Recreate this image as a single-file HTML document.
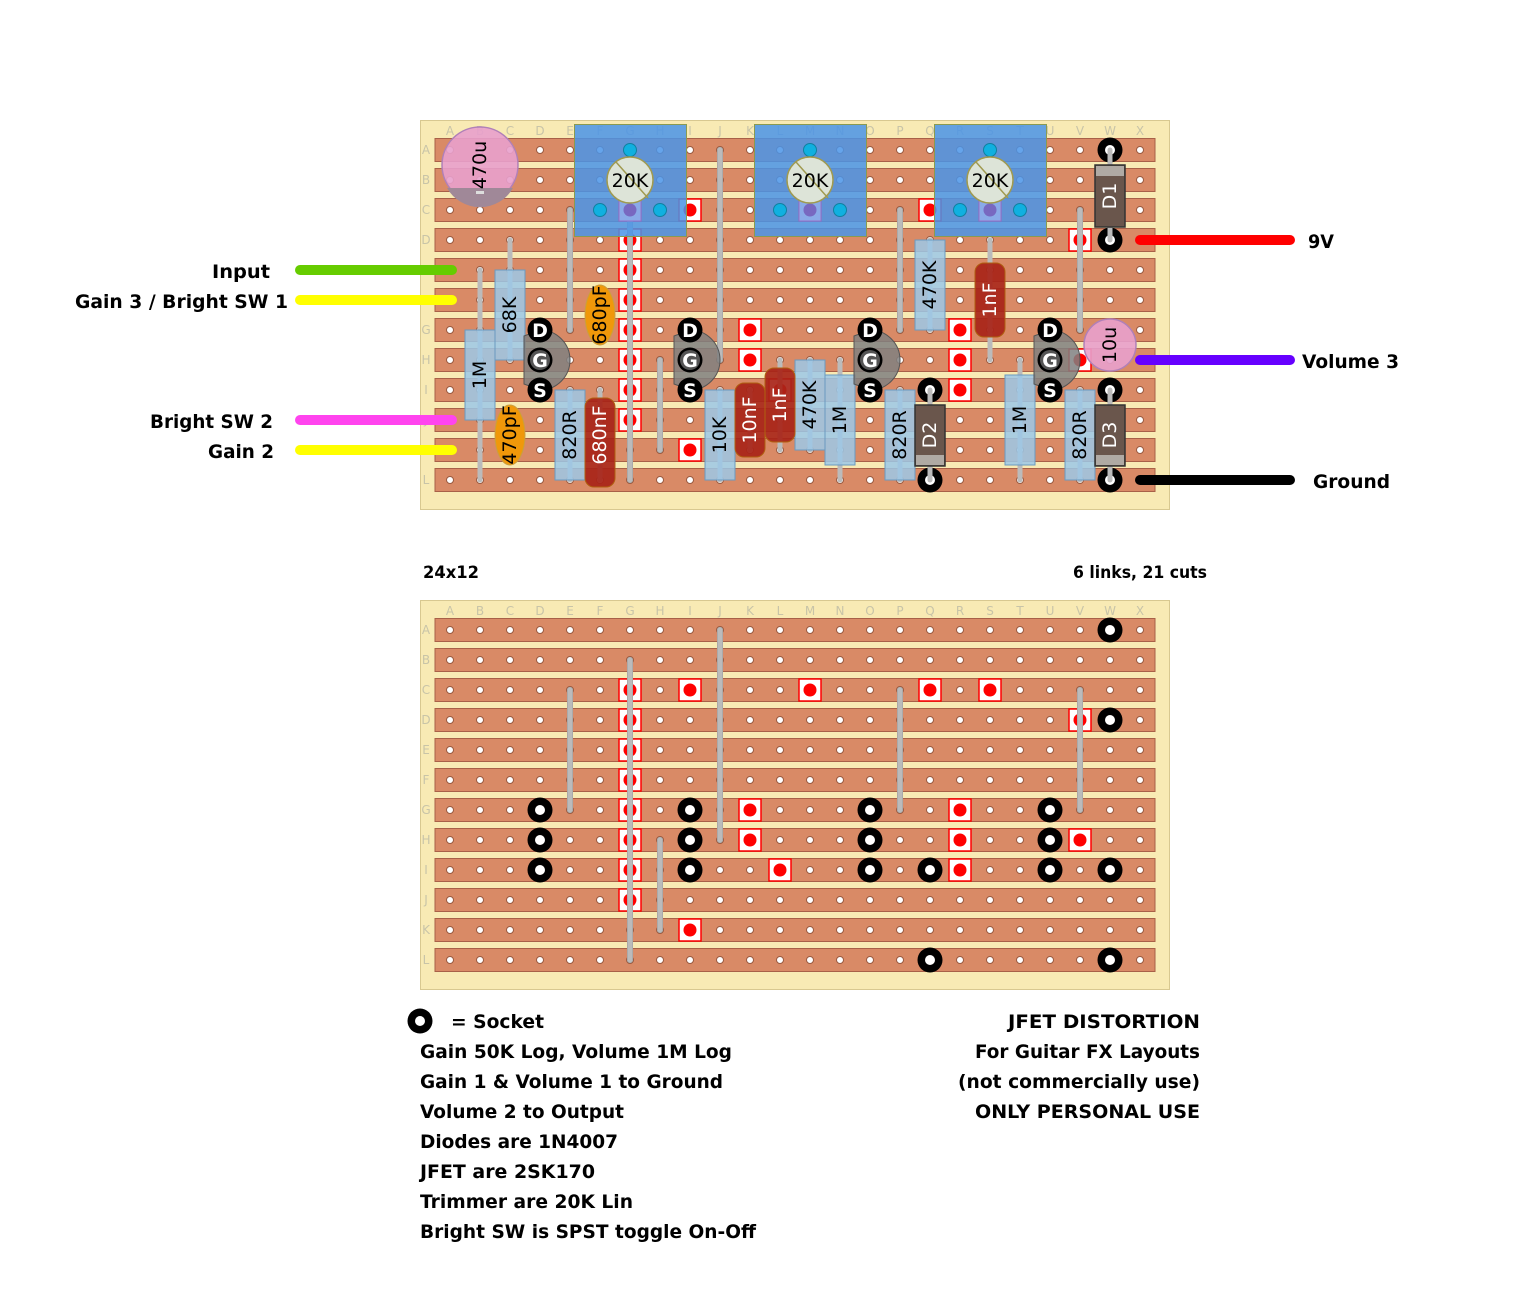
<!DOCTYPE html>
<html><head><meta charset="utf-8"><style>
html,body{margin:0;padding:0;background:#fff;}
svg{display:block;}
.lbl{font-family:"DejaVu Sans","Liberation Sans",sans-serif;font-weight:bold;font-size:19px;fill:#000;}
.gl{font-family:"DejaVu Sans","Liberation Sans",sans-serif;font-size:12px;fill:#c8c4a8;text-anchor:middle;}
.ct{font-family:"DejaVu Sans","Liberation Sans",sans-serif;font-size:19px;text-anchor:middle;dominant-baseline:central;}
.pin{font-family:"DejaVu Sans","Liberation Sans",sans-serif;font-weight:bold;font-size:19px;fill:#fff;text-anchor:middle;dominant-baseline:central;}
</style></head><body>
<svg width="1536" height="1300" viewBox="0 0 1536 1300" xmlns="http://www.w3.org/2000/svg">
<defs>
<pattern id="holes" x="435" y="135" width="30" height="30" patternUnits="userSpaceOnUse">
<circle cx="15" cy="15" r="3.5" fill="#fff" stroke="#9a5a40" stroke-width="1"/>
</pattern>
<pattern id="holes2" x="435" y="615" width="30" height="30" patternUnits="userSpaceOnUse">
<circle cx="15" cy="15" r="3.5" fill="#fff" stroke="#9a5a40" stroke-width="1"/>
</pattern>
<g id="strips">
<rect x="435" y="0" width="720" height="23" fill="#d98a66" stroke="#a86048"/>
<rect x="435" y="30" width="720" height="23" fill="#d98a66" stroke="#a86048"/>
<rect x="435" y="60" width="720" height="23" fill="#d98a66" stroke="#a86048"/>
<rect x="435" y="90" width="720" height="23" fill="#d98a66" stroke="#a86048"/>
<rect x="435" y="120" width="720" height="23" fill="#d98a66" stroke="#a86048"/>
<rect x="435" y="150" width="720" height="23" fill="#d98a66" stroke="#a86048"/>
<rect x="435" y="180" width="720" height="23" fill="#d98a66" stroke="#a86048"/>
<rect x="435" y="210" width="720" height="23" fill="#d98a66" stroke="#a86048"/>
<rect x="435" y="240" width="720" height="23" fill="#d98a66" stroke="#a86048"/>
<rect x="435" y="270" width="720" height="23" fill="#d98a66" stroke="#a86048"/>
<rect x="435" y="300" width="720" height="23" fill="#d98a66" stroke="#a86048"/>
<rect x="435" y="330" width="720" height="23" fill="#d98a66" stroke="#a86048"/>
</g>
<g id="cut"><rect x="-11" y="-11" width="22" height="22" fill="#fff" stroke="#f00" stroke-width="1.5"/><circle r="6.5" fill="#f00"/></g>
<g id="sock"><circle r="12.5" fill="#000"/><circle r="5" fill="#fff"/></g>
<g id="cuts">
<use href="#cut" x="630" y="0"/><use href="#cut" x="690" y="0"/><use href="#cut" x="810" y="0"/><use href="#cut" x="930" y="0"/><use href="#cut" x="990" y="0"/>
<use href="#cut" x="630" y="30"/><use href="#cut" x="1080" y="30"/>
<use href="#cut" x="630" y="60"/><use href="#cut" x="630" y="90"/>
<use href="#cut" x="630" y="120"/><use href="#cut" x="750" y="120"/><use href="#cut" x="960" y="120"/>
<use href="#cut" x="630" y="150"/><use href="#cut" x="750" y="150"/><use href="#cut" x="960" y="150"/><use href="#cut" x="1080" y="150"/>
<use href="#cut" x="630" y="180"/><use href="#cut" x="780" y="180"/><use href="#cut" x="960" y="180"/>
<use href="#cut" x="630" y="210"/><use href="#cut" x="690" y="240"/>
</g>
<g id="links" stroke="#bbb" stroke-width="5" stroke-linecap="round" fill="none">
<line x1="630" y1="30" x2="630" y2="330" stroke="#999" stroke-width="6"/><line x1="630" y1="30" x2="630" y2="330"/>
<line x1="570" y1="60" x2="570" y2="180" stroke="#999" stroke-width="6"/><line x1="570" y1="60" x2="570" y2="180"/>
<line x1="720" y1="0" x2="720" y2="210" stroke="#999" stroke-width="6"/><line x1="720" y1="0" x2="720" y2="210"/>
<line x1="660" y1="210" x2="660" y2="300" stroke="#999" stroke-width="6"/><line x1="660" y1="210" x2="660" y2="300"/>
<line x1="900" y1="60" x2="900" y2="180" stroke="#999" stroke-width="6"/><line x1="900" y1="60" x2="900" y2="180"/>
<line x1="1080" y1="60" x2="1080" y2="180" stroke="#999" stroke-width="6"/><line x1="1080" y1="60" x2="1080" y2="180"/>
</g>
<g id="cols">
<text class="gl" x="450">A</text><text class="gl" x="480">B</text><text class="gl" x="510">C</text><text class="gl" x="540">D</text><text class="gl" x="570">E</text><text class="gl" x="600">F</text><text class="gl" x="630">G</text><text class="gl" x="660">H</text><text class="gl" x="690">I</text><text class="gl" x="720">J</text><text class="gl" x="750">K</text><text class="gl" x="780">L</text><text class="gl" x="810">M</text><text class="gl" x="840">N</text><text class="gl" x="870">O</text><text class="gl" x="900">P</text><text class="gl" x="930">Q</text><text class="gl" x="960">R</text><text class="gl" x="990">S</text><text class="gl" x="1020">T</text><text class="gl" x="1050">U</text><text class="gl" x="1080">V</text><text class="gl" x="1110">W</text><text class="gl" x="1140">X</text>
</g>
<g id="rows">
<text class="gl" x="426" y="0">A</text><text class="gl" x="426" y="30">B</text><text class="gl" x="426" y="60">C</text><text class="gl" x="426" y="90">D</text><text class="gl" x="426" y="120">E</text><text class="gl" x="426" y="150">F</text><text class="gl" x="426" y="180">G</text><text class="gl" x="426" y="210">H</text><text class="gl" x="426" y="240">I</text><text class="gl" x="426" y="270">J</text><text class="gl" x="426" y="300">K</text><text class="gl" x="426" y="330">L</text>
</g>
</defs>

<!-- TOP BOARD -->
<rect x="420.5" y="120.5" width="749" height="389" fill="#f8eab4" stroke="#d8c890"/>
<use href="#strips" y="138.5"/>
<rect x="435" y="135" width="720" height="360" fill="url(#holes)"/>
<use href="#cols" y="135"/>
<use href="#rows" y="154"/>
<use href="#cuts" y="210"/>
<use href="#links" y="150"/>

<g stroke="#bbb" stroke-width="5" stroke-linecap="round">
<line x1="480" y1="270" x2="480" y2="480"/><line x1="510" y1="240" x2="510" y2="360"/>
<line x1="570" y1="390" x2="570" y2="480"/><line x1="600" y1="390" x2="600" y2="480"/>
<line x1="720" y1="390" x2="720" y2="480"/><line x1="750" y1="390" x2="750" y2="450"/><line x1="780" y1="360" x2="780" y2="450"/>
<line x1="810" y1="360" x2="810" y2="450"/><line x1="840" y1="360" x2="840" y2="480"/><line x1="900" y1="390" x2="900" y2="480"/>
<line x1="930" y1="240" x2="930" y2="330"/><line x1="990" y1="240" x2="990" y2="360"/>
<line x1="1020" y1="360" x2="1020" y2="480"/><line x1="1080" y1="390" x2="1080" y2="480"/>
<line x1="930" y1="390" x2="930" y2="480"/><line x1="1110" y1="150" x2="1110" y2="240"/><line x1="1110" y1="390" x2="1110" y2="480"/>
</g>

<use href="#sock" x="1110" y="150"/><use href="#sock" x="1110" y="240"/><use href="#sock" x="930" y="390"/><use href="#sock" x="930" y="480"/><use href="#sock" x="1110" y="390"/><use href="#sock" x="1110" y="480"/>
<g stroke="#bbb" stroke-width="5" stroke-linecap="round">
<line x1="1110" y1="150" x2="1110" y2="165"/><line x1="1110" y1="228" x2="1110" y2="240"/><line x1="930" y1="390" x2="930" y2="405"/><line x1="930" y1="466" x2="930" y2="480"/><line x1="1110" y1="390" x2="1110" y2="405"/><line x1="1110" y1="466" x2="1110" y2="480"/>
</g>

<circle cx="480" cy="165" r="38" fill="#e8a0cc" fill-opacity="0.9" stroke="#b080b8" stroke-width="1.5"/>
<path d="M447 188 L513 188 A38 38 0 0 1 447 188 Z" fill="#a08898"/>
<rect x="476" y="191" width="8" height="3" fill="#ddd"/>
<text class="ct" transform="translate(480,165) rotate(-90)" fill="#000">470u</text>

<g id="trim">
<rect x="574.5" y="124.5" width="112" height="112" fill="#4a94e8" fill-opacity="0.85" stroke="#8a9a50"/>
<rect x="619" y="199" width="22" height="22" fill="#8aaae8" stroke="#9a70c8"/>
<circle cx="600" cy="210" r="6.5" fill="#10b0e0" stroke="#1080a0"/><circle cx="660" cy="210" r="6.5" fill="#10b0e0" stroke="#1080a0"/><circle cx="630" cy="150" r="6.5" fill="#10b0e0" stroke="#1080a0"/>
<circle cx="630" cy="210" r="6.5" fill="#7868c0"/>
<circle cx="630" cy="180" r="23" fill="#dde4d8" stroke="#a09a50" stroke-width="1.5"/>
<path d="M616 162 L648 198" stroke="#a09a50" stroke-width="1.5"/>
<text class="ct" x="630" y="181" fill="#000" font-size="20">20K</text>
</g>
<use href="#trim" x="180"/><use href="#trim" x="360"/>

<g fill="#9cc8e8" fill-opacity="0.85" stroke="#6a9ac0">
<rect x="495" y="270" width="30" height="90"/><rect x="465" y="330" width="30" height="90"/>
<rect x="555" y="390" width="30" height="90"/><rect x="705" y="390" width="30" height="90"/>
<rect x="795" y="360" width="30" height="90"/><rect x="825" y="375" width="30" height="90"/>
<rect x="885" y="390" width="30" height="90"/><rect x="915" y="240" width="30" height="90"/>
<rect x="1005" y="375" width="30" height="90"/><rect x="1065" y="390" width="30" height="90"/>
</g>
<g fill="#000">
<text class="ct" transform="translate(510,315) rotate(-90)">68K</text>
<text class="ct" transform="translate(480,375) rotate(-90)">1M</text>
<text class="ct" transform="translate(570,435) rotate(-90)">820R</text>
<text class="ct" transform="translate(720,435) rotate(-90)">10K</text>
<text class="ct" transform="translate(810,405) rotate(-90)">470K</text>
<text class="ct" transform="translate(840,420) rotate(-90)">1M</text>
<text class="ct" transform="translate(900,435) rotate(-90)">820R</text>
<text class="ct" transform="translate(930,285) rotate(-90)">470K</text>
<text class="ct" transform="translate(1020,420) rotate(-90)">1M</text>
<text class="ct" transform="translate(1080,435) rotate(-90)">820R</text>
</g>

<g fill="#a82418" fill-opacity="0.92" stroke="#b06010">
<rect x="585" y="398" width="30" height="89" rx="9"/>
<rect x="735" y="383" width="30" height="74" rx="9"/>
<rect x="765" y="368" width="30" height="74" rx="9"/>
<rect x="975" y="263" width="30" height="74" rx="9"/>
</g>
<g fill="#fff">
<text class="ct" transform="translate(600,435) rotate(-90)">680nF</text>
<text class="ct" transform="translate(750,420) rotate(-90)">10nF</text>
<text class="ct" transform="translate(780,405) rotate(-90)">1nF</text>
<text class="ct" transform="translate(990,300) rotate(-90)">1nF</text>
</g>

<ellipse cx="600" cy="315" rx="15" ry="30" fill="#f0980a" stroke="#c8a040"/>
<ellipse cx="510" cy="435" rx="15" ry="30" fill="#f0980a" stroke="#c8a040"/>
<text class="ct" transform="translate(600,315) rotate(-90)" fill="#000">680pF</text>
<text class="ct" transform="translate(510,435) rotate(-90)" fill="#000">470pF</text>

<circle cx="1110" cy="345" r="26" fill="#e8a0cc" fill-opacity="0.9" stroke="#b080b8" stroke-width="1.5"/>
<text class="ct" transform="translate(1110,345) rotate(-90)" fill="#000">10u</text>

<g stroke="#333" stroke-width="1.5">
<rect x="1095" y="165" width="30" height="62" fill="#6a564c"/>
<rect x="915" y="405" width="30" height="61" fill="#6a564c"/>
<rect x="1095" y="405" width="30" height="61" fill="#6a564c"/>
</g>
<rect x="1096" y="166" width="28" height="10" fill="#b0aaa4"/>
<rect x="916" y="455" width="28" height="10" fill="#b0aaa4"/>
<rect x="1096" y="455" width="28" height="10" fill="#b0aaa4"/>
<text class="ct" transform="translate(1110,196) rotate(-90)" fill="#fff">D1</text>
<text class="ct" transform="translate(930,435) rotate(-90)" fill="#fff">D2</text>
<text class="ct" transform="translate(1110,435) rotate(-90)" fill="#fff">D3</text>

<g id="jfet">
<path d="M524 336 L540 330 A30 30 0 0 1 540 390 L524 384 Z" fill="#808080" fill-opacity="0.85" stroke="#555"/>
<circle cx="540" cy="330" r="12.5" fill="#000"/><circle cx="540" cy="360" r="12.5" fill="#000"/><circle cx="540" cy="390" r="12.5" fill="#000"/>
<circle cx="540" cy="360" r="10" fill="#555"/>
<text class="pin" x="540" y="331">D</text><text class="pin" x="540" y="361">G</text><text class="pin" x="540" y="391">S</text>
</g>
<use href="#jfet" x="150"/><use href="#jfet" x="330"/><use href="#jfet" x="510"/>

<g stroke-width="10" stroke-linecap="round">
<line x1="300" y1="270" x2="452" y2="270" stroke="#66cc00"/>
<line x1="300" y1="300" x2="452" y2="300" stroke="#ffff00"/>
<line x1="300" y1="420" x2="452" y2="420" stroke="#ff44ee"/>
<line x1="300" y1="450" x2="452" y2="450" stroke="#ffff00"/>
<line x1="1140" y1="240" x2="1290" y2="240" stroke="#ff0000"/>
<line x1="1140" y1="360" x2="1290" y2="360" stroke="#6600ff"/>
<line x1="1140" y1="480" x2="1290" y2="480" stroke="#000"/>
</g>
<g class="lbl">
<text x="270" y="278" text-anchor="end" textLength="58" lengthAdjust="spacingAndGlyphs">Input</text>
<text x="288" y="308" text-anchor="end" textLength="213" lengthAdjust="spacingAndGlyphs">Gain 3 / Bright SW 1</text>
<text x="273" y="428" text-anchor="end" textLength="123" lengthAdjust="spacingAndGlyphs">Bright SW 2</text>
<text x="274" y="458" text-anchor="end" textLength="66" lengthAdjust="spacingAndGlyphs">Gain 2</text>
<text x="1308" y="248" textLength="26" lengthAdjust="spacingAndGlyphs">9V</text>
<text x="1302" y="368" textLength="97" lengthAdjust="spacingAndGlyphs">Volume 3</text>
<text x="1313" y="488" textLength="77" lengthAdjust="spacingAndGlyphs">Ground</text>
<text x="423" y="578" font-size="17" textLength="56" lengthAdjust="spacingAndGlyphs">24x12</text>
<text x="1073" y="578" font-size="17" textLength="134" lengthAdjust="spacingAndGlyphs">6 links, 21 cuts</text>
</g>

<!-- BOTTOM BOARD -->
<rect x="420.5" y="600.5" width="749" height="389" fill="#f8eab4" stroke="#d8c890"/>
<use href="#strips" y="618.5"/>
<rect x="435" y="615" width="720" height="360" fill="url(#holes2)"/>
<use href="#cols" y="615"/>
<use href="#rows" y="634"/>
<use href="#cuts" y="690"/>
<use href="#links" y="630"/>
<g>
<use href="#sock" x="540" y="810"/><use href="#sock" x="540" y="840"/><use href="#sock" x="540" y="870"/>
<use href="#sock" x="690" y="810"/><use href="#sock" x="690" y="840"/><use href="#sock" x="690" y="870"/>
<use href="#sock" x="870" y="810"/><use href="#sock" x="870" y="840"/><use href="#sock" x="870" y="870"/>
<use href="#sock" x="1050" y="810"/><use href="#sock" x="1050" y="840"/><use href="#sock" x="1050" y="870"/>
<use href="#sock" x="1110" y="630"/><use href="#sock" x="1110" y="720"/><use href="#sock" x="1110" y="870"/><use href="#sock" x="1110" y="960"/>
<use href="#sock" x="930" y="870"/><use href="#sock" x="930" y="960"/>
</g>

<use href="#sock" x="420" y="1021"/>
<g class="lbl">
<text x="451" y="1028" textLength="93" lengthAdjust="spacingAndGlyphs">= Socket</text>
<text x="420" y="1058" textLength="312" lengthAdjust="spacingAndGlyphs">Gain 50K Log, Volume 1M Log</text>
<text x="420" y="1088" textLength="303" lengthAdjust="spacingAndGlyphs">Gain 1 &amp; Volume 1 to Ground</text>
<text x="420" y="1118" textLength="204" lengthAdjust="spacingAndGlyphs">Volume 2 to Output</text>
<text x="420" y="1148" textLength="198" lengthAdjust="spacingAndGlyphs">Diodes are 1N4007</text>
<text x="420" y="1178" textLength="175" lengthAdjust="spacingAndGlyphs">JFET are 2SK170</text>
<text x="420" y="1208" textLength="213" lengthAdjust="spacingAndGlyphs">Trimmer are 20K Lin</text>
<text x="420" y="1238" textLength="336" lengthAdjust="spacingAndGlyphs">Bright SW is SPST toggle On-Off</text>
<text x="1200" y="1028" text-anchor="end" textLength="192" lengthAdjust="spacingAndGlyphs">JFET DISTORTION</text>
<text x="1200" y="1058" text-anchor="end" textLength="225" lengthAdjust="spacingAndGlyphs">For Guitar FX Layouts</text>
<text x="1200" y="1088" text-anchor="end" textLength="242" lengthAdjust="spacingAndGlyphs">(not commercially use)</text>
<text x="1200" y="1118" text-anchor="end" textLength="225" lengthAdjust="spacingAndGlyphs">ONLY PERSONAL USE</text>
</g>
</svg>
</body></html>
